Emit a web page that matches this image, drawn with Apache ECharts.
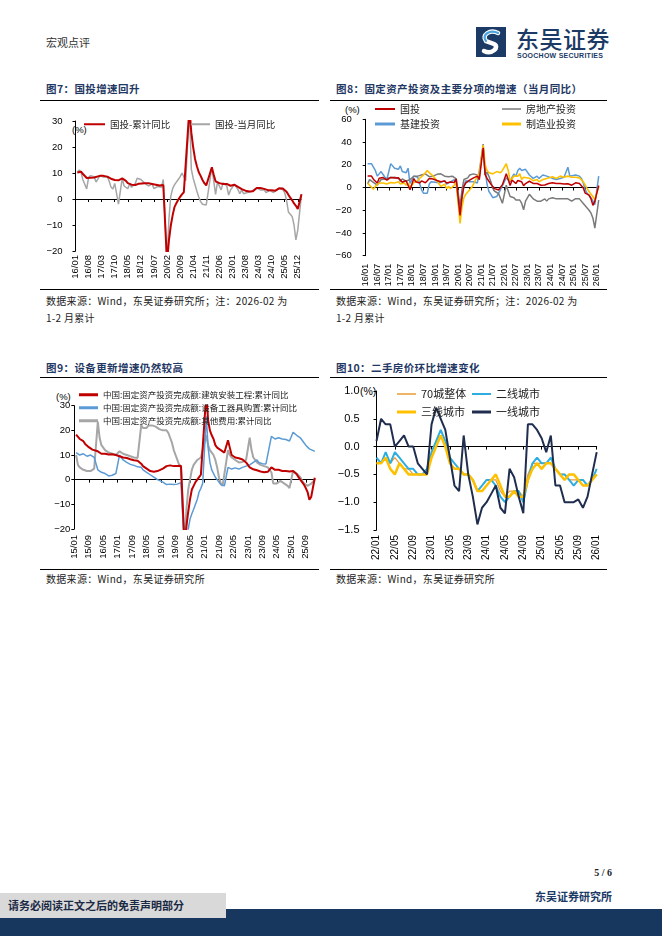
<!DOCTYPE html>
<html><head><meta charset="utf-8">
<script src="https://cdn.jsdelivr.net/npm/echarts@6.0.0/dist/echarts.min.js"></script>
<style>
body{margin:0;background:#fff;}
#page{position:relative;width:662px;height:936px;overflow:hidden;font-family:"Noto Sans CJK SC","Noto Sans",sans-serif;background:#fff;}
.t{position:absolute;white-space:nowrap;line-height:1;}
.title{font-size:10.5px;font-weight:bold;color:#1f3864;letter-spacing:0.4px;}
.src{font-size:10px;color:#222;letter-spacing:0.3px;}
.pct{font-family:"Liberation Sans",Arial,sans-serif;font-size:9.5px;color:#000;}
.hr{position:absolute;height:0;border-top:1.3px solid #000;}
#c{position:absolute;left:0;top:0;width:662px;height:936px;}
</style></head>
<body><div id="page">
<div class="t" style="left:46px;top:37px;font-size:11px;color:#333;">宏观点评</div>
<svg style="position:absolute;left:476px;top:27px" width="30" height="30" viewBox="0 0 30 30">
  <rect x="0" y="0" width="30" height="30" fill="#1b3a66"/>
  <path d="M22 6 C14 2,5 8,10 14 L18 17 C24 20,16 28,8 24" fill="none" stroke="#ffffff" stroke-width="4.5" stroke-linecap="round"/>
  <path d="M22 6 C14 2,5 8,10 14" fill="none" stroke="#4aa3df" stroke-width="2.2" stroke-linecap="round"/>
</svg>
<div class="t" style="left:516px;top:27px;font-size:23px;color:#1b3a66;font-weight:500;letter-spacing:0.5px;">东吴证券</div>
<div class="t" style="left:517px;top:51.5px;font-size:7px;color:#1b3a66;font-weight:bold;font-family:'Liberation Sans',Arial,sans-serif;letter-spacing:0.25px;">SOOCHOW SECURITIES</div>

<div class="t title" style="left:46px;top:83.5px;">图7：国投增速回升</div>
<div class="t title" style="left:336px;top:83.5px;">图8：固定资产投资及主要分项的增速（当月同比）</div>
<div class="hr" style="left:40px;width:279px;top:99.5px;"></div>
<div class="hr" style="left:330px;width:277px;top:99.5px;"></div>

<div class="t pct" style="left:72px;top:124.5px;">(%)</div>
<div class="t pct" style="left:345px;top:104.5px;">(%)</div>

<div class="hr" style="left:40px;width:279px;top:289px;"></div>
<div class="hr" style="left:330px;width:277px;top:289px;"></div>
<div class="t src" style="left:46px;top:295.5px;">数据来源：Wind，东吴证券研究所；注：2026-02 为</div>
<div class="t src" style="left:46px;top:312.5px;">1-2 月累计</div>
<div class="t src" style="left:336px;top:295.5px;">数据来源：Wind，东吴证券研究所；注：2026-02 为</div>
<div class="t src" style="left:336px;top:312.5px;">1-2 月累计</div>

<div class="t title" style="left:46px;top:362.5px;">图9：设备更新增速仍然较高</div>
<div class="t title" style="left:336px;top:362.5px;">图10：二手房价环比增速变化</div>
<div class="hr" style="left:40px;width:279px;top:376.5px;"></div>
<div class="hr" style="left:330px;width:277px;top:376.5px;"></div>

<div class="t pct" style="left:56px;top:392px;">(%)</div>
<div class="t pct" style="left:360px;top:386px;font-size:10.5px;">(%)</div>

<div class="hr" style="left:40px;width:279px;top:568.5px;"></div>
<div class="hr" style="left:330px;width:277px;top:568.5px;"></div>
<div class="t src" style="left:46px;top:574px;">数据来源：Wind，东吴证券研究所</div>
<div class="t src" style="left:336px;top:574px;">数据来源：Wind，东吴证券研究所</div>

<div class="t" style="right:50px;top:868px;font-size:10px;font-weight:bold;color:#222;font-family:'Liberation Serif',serif;">5 / 6</div>
<div class="t" style="right:50px;top:891px;font-size:11px;font-weight:bold;color:#1b3a66;">东吴证券研究所</div>
<div style="position:absolute;left:0;top:909px;width:662px;height:27px;background:#17375e;"></div>
<div style="position:absolute;left:0;top:893px;width:226px;height:25px;background:#d9d9d9;"></div>
<div class="t" style="left:8px;top:899.5px;font-size:11px;font-weight:bold;color:#1b2a44;">请务必阅读正文之后的免责声明部分</div>

<div id="c"></div>
</div>
<script>
// ---------- categories ----------
function months(y0, m0, y1, m1) {
  const a = []; let y = y0, m = m0;
  while (y < y1 || (y === y1 && m <= m1)) {
    a.push(String(y % 100).padStart(2, '0') + '/' + String(m).padStart(2, '0'));
    m++; if (m > 12) { m = 1; y++; }
  }
  return a;
}
const cat7 = months(2016, 1, 2026, 2);   // 图7 & 图8
const cat9 = months(2015, 1, 2026, 2);   // 图9
const cat10 = months(2022, 1, 2026, 1);  // 图10

// ---------- 图7 ----------
const faiCum = [
  null,10.2,10.7,10.5,9.6,9.0,8.1,8.1,8.2,8.3,8.3,8.1,
  null,8.9,9.2,8.9,8.6,8.6,8.3,7.8,7.5,7.3,7.2,7.2,
  null,7.9,7.5,7.0,6.1,6.0,5.5,5.3,5.4,5.7,5.9,5.9,
  null,6.1,6.3,6.1,5.6,5.8,5.7,5.5,5.4,5.2,5.2,5.4,
  null,-24.5,-16.1,-10.3,-6.3,-3.1,-1.6,-0.3,0.8,1.8,2.6,2.9,
  null,35.0,25.6,19.9,15.4,12.6,10.3,8.9,7.3,6.1,5.2,4.9,
  null,12.2,9.3,6.8,6.2,6.1,5.7,5.8,5.9,5.8,5.3,5.1,
  null,5.5,5.1,4.7,4.0,3.8,3.4,3.2,3.1,2.9,2.9,3.0,
  null,4.2,4.5,4.2,4.0,3.9,3.6,3.4,3.4,3.4,3.3,3.2,
  null,4.1,4.2,4.0,3.7,2.8,1.6,0.5,-0.5,-1.7,-2.6,-3.8,
  null,1.8
];
const faiMon = [
  null,10.2,11.2,10.1,7.3,7.3,3.9,8.2,9.0,8.8,8.6,6.5,
  null,8.9,9.5,8.4,8.3,8.6,6.9,4.6,3.8,6.0,6.6,-2.0,
  null,7.9,5.0,5.5,4.0,5.8,4.5,4.2,6.0,8.0,8.2,7.5,
  null,6.1,6.5,5.0,4.5,5.8,4.0,4.5,4.8,5.0,4.5,7.5,
  null,-24.5,-8.0,1.0,4.0,5.5,6.5,7.5,8.5,10.0,10.0,7.0,
  null,35.0,11.5,8.0,5.5,3.0,0.8,-1.0,-2.0,-2.2,-2.3,2.5,
  null,12.2,7.0,1.8,6.5,6.0,3.5,6.2,6.3,5.0,1.5,3.5,
  null,5.5,4.7,3.6,2.0,3.5,2.0,2.0,2.5,2.2,2.9,3.5,
  null,4.2,4.8,3.5,3.5,3.5,2.5,3.0,3.3,3.3,2.5,2.0,
  null,4.1,4.3,3.5,2.5,-0.5,-5.0,-5.5,-6.7,-10.0,-15.7,-12.0,
  null,1.8
];

// ---------- 图8 ----------
const realEstate = [
  null,3.0,7.0,6.5,4.5,3.5,2.0,4.5,7.0,8.0,7.5,6.0,
  null,8.9,9.5,9.0,8.0,8.0,5.5,7.5,6.0,5.5,5.0,7.0,
  null,9.9,10.5,10.0,10.5,11.0,9.5,12.0,11.5,9.5,10.5,10.0,
  null,11.6,12.6,12.0,10.5,10.0,9.0,9.5,10.5,10.0,9.0,7.5,
  null,-16.3,-2.0,7.0,8.0,8.5,11.0,11.5,12.0,12.7,10.9,9.0,
  null,38.3,11.0,13.5,9.8,5.0,-0.7,-3.3,-3.5,-5.4,-4.3,-13.9,
  null,2.0,-3.0,-8.0,-7.0,-9.0,-11.0,-12.0,-11.0,-14.0,-19.6,-12.0,
  null,-6.0,-8.0,-10.0,-11.0,-12.0,-11.0,-12.0,-11.0,-10.0,-12.0,-10.0,
  null,-9.0,-10.0,-10.0,-11.0,-10.0,-10.0,-10.0,-11.0,-10.0,-11.0,-12.0,
  null,-9.8,-9.0,-10.0,-11.0,-14.0,-16.0,-18.0,-20.0,-22.5,-27.0,-35.7,
  null,-11.0
];
const infra = [
  null,21,22,21,18,15,10,12,14,13,9,7,
  null,21,20,17,18,16,19,14,15,13,17,3.5,
  null,10,11,9,8,-2,-5,-4,-5,3,5,4,
  null,4.3,5,4.5,3,6,3,3,5,4,7,3,
  null,-26,-10,2,6,5,5,5,5,5,4,5,
  null,36.6,16,3,-3.5,-6,-9,-10,-8,-5,-2,-1.5,
  null,8.6,9,5,9,12,10,15,17,15,14,16,
  null,11,10,8,9,10,8,9,11,12,10,9,
  null,8,9,7,6,8,7,9,8,17.8,10,9,
  null,11,12.6,10,8,4,-2,-5,-6.4,-9,-12,-15,
  null,10
];
const manuf = [
  null,4,2,1,-1.5,1,2,4,5,4,3,3,
  null,4.3,6,4,4,5,3,3,4,2,4,0,
  null,4.3,5,6,8,9,11,12,15,13,12,10,
  null,5.9,5,1,2,3,-1,1,-1,-2,2,5,
  null,-31.5,-17,-9,-6,-4,-2,0,3,3.8,10,12,
  null,37.3,20,15,13,12,12,13,14,13,13,15,
  null,20.9,15,6,8,10,9,10,12,7,9,8,
  null,8.1,7,6,5,7,5,6,7,6,8,7,
  null,9.4,10,8,9,10,9,9,9,10,10,9,
  null,9,9.5,8.5,7,5,2,-1,-3.5,-6,-8,-11,
  null,1
];

// ---------- 图9 ----------
const construct = [
  null,18.3,17.5,16.5,16,15.6,14.5,13.8,13.2,12.8,12.2,12,
  null,11.5,11,10.5,10.5,10.5,10.5,10.2,10.2,10.3,10.2,10,
  null,9.5,9.5,9,9,8.8,8.5,8.3,8,7.9,7.8,7.7,
  null,6.5,5.5,5,4.5,4,3.5,3.3,3.2,3.3,3.5,3.6,
  null,4.5,5,5.5,5.5,5.8,5.7,5.5,5.4,5.5,5.5,5.6,
  null,-27,-19,-13,-8,-4,-2.5,-1,0,1,2,2.8,
  null,35,24,20,18,16.5,14,13,12.5,12,11.5,11,
  null,16,13,10,9.5,9,8.5,8.7,8.5,8.2,7.5,7,
  null,5,4.5,4.2,4,3.8,3.5,3.3,3.2,3,3,3.2,
  null,5,4.5,4,4,4,3.8,3.5,3.5,3.5,3.4,3.3,
  null,3.5,3,2.2,1,0,-1,-2,-3.4,-5,-8.1,-7,
  null,0.8
];
const equip = [
  null,11,10.5,10,10,10.5,10,9.5,9.5,10,10,9,
  null,4,3.5,3,3,2.5,2,1.5,1.5,1.8,2,2.5,
  null,10,9,8,7.5,7,6.5,6.2,6,5.8,5.5,5.2,
  null,5,4,3.5,3,2.5,2,1.5,1,0.5,0,-0.5,
  null,-1,-1.5,-2,-2,-1.8,-1.5,-2,-2,-1.8,-1.5,-1.2,
  null,-28,-25,-20,-16,-13.8,-12,-10,-8,-5,-3.5,-1.5,
  null,25.7,13,7,4,2.5,1,0,-1,-2,-2.5,-2.5,
  null,5,4.5,4.3,4.5,4.8,4.5,4.3,4.8,5,5.2,5.5,
  null,6,6.5,7,7.5,8,7,6.8,6.5,6.2,6.4,6.6,
  null,17.6,17,16.5,17,17,17,16.5,16.4,16.3,16,15.7,
  null,19.2,18.5,18,17.5,17,16,15,14,13.5,12.5,12,
  null,11.5
];
const otherCost = [
  null,10,6,5,4.5,4,3.5,3.5,3.2,3.5,4,4.5,
  null,23.5,17,14,13,12,11.5,11,10.8,10.5,10.2,10,
  null,11.5,11,10.5,10,10,9.5,9.5,9,9,9,8.8,
  null,22,21,20.5,21,22,22.5,22,21.5,21.5,21,20.5,
  null,20,20.5,20,19,17,15,12,10,8,6,5,
  null,-30,-12,-4,0,4,6,7,8,8.5,9,9,
  null,18,14,12,11,10,8,5,1,-1.5,-2.5,-2,
  null,12,10,9,8.5,8,7.5,7,7,7.2,7.5,8,
  null,17,12,9,8,7,6.5,6,5.5,5.5,5.2,5,
  null,3,-1.5,-2,-1.5,-1,-0.5,-1,-1.5,-2,-2.5,-3.4,
  null,3.5,3,2.5,2,1,-0.5,-1.5,-2,-2.5,-2,-1.6,
  null,0
];

// ---------- 图10 ----------
const city70 = [-0.3,-0.3,-0.2,-0.3,-0.2,-0.3,-0.4,-0.4,-0.5,-0.5,-0.5,-0.4,-0.1,0.1,0.2,0.0,-0.3,-0.4,-0.4,-0.5,-0.5,-0.6,-0.8,-0.7,-0.6,-0.6,-0.6,-0.8,-0.9,-0.8,-0.8,-0.8,-0.9,-0.5,-0.3,-0.3,-0.3,-0.3,-0.3,-0.4,-0.5,-0.5,-0.6,-0.6,-0.6,-0.6,-0.7,-0.6,-0.5];
const tier2 = [-0.2,-0.3,-0.1,-0.3,-0.1,-0.2,-0.3,-0.4,-0.4,-0.5,-0.5,-0.4,-0.1,0.1,0.3,0.1,-0.2,-0.3,-0.4,-0.5,-0.5,-0.6,-0.8,-0.7,-0.6,-0.6,-0.7,-0.9,-1.0,-0.9,-0.8,-0.8,-1.0,-0.6,-0.3,-0.2,-0.3,-0.3,-0.2,-0.4,-0.5,-0.5,-0.6,-0.7,-0.6,-0.6,-0.7,-0.6,-0.4];
const tier3 = [-0.3,-0.3,-0.2,-0.4,-0.5,-0.3,-0.4,-0.5,-0.5,-0.5,-0.5,-0.5,-0.2,0.0,0.2,0.0,-0.3,-0.4,-0.4,-0.5,-0.5,-0.6,-0.8,-0.8,-0.7,-0.6,-0.5,-0.7,-0.9,-0.9,-0.8,-0.9,-0.9,-0.6,-0.4,-0.3,-0.4,-0.3,-0.3,-0.4,-0.5,-0.6,-0.5,-0.5,-0.6,-0.7,-0.7,-0.6,-0.5];
const tier1 = [0.1,0.5,0.4,0.4,0.0,0.1,0.2,0.0,0.0,-0.3,-0.4,-0.5,0.4,0.7,0.5,0.3,-0.2,-0.7,-0.8,0.2,-0.5,-0.9,-1.4,-1.1,-1.0,-0.85,-0.7,-1.1,-1.2,-0.4,-0.55,-0.9,-1.2,0.4,0.4,0.3,0.15,-0.1,0.2,-0.7,-0.7,-1.0,-1.0,-1.0,-0.95,-1.1,-0.9,-0.5,-0.1];

// ---------- helpers ----------
const NUM = "'Liberation Sans', Arial, sans-serif";
const CJK = "'Noto Sans CJK SC', sans-serif";
const minus = v => String(v).replace('-', '\u2212');
function yAx(grid, min, max, interval, fs, margin, fmt) {
  return { type: 'value', gridIndex: grid, min, max, interval,
    splitLine: { show: false },
    axisLine: { show: true, lineStyle: { color: '#000', width: 1 } },
    axisTick: { show: true, length: 3, lineStyle: { color: '#000' } },
    axisLabel: { fontSize: fs, margin, color: '#000', fontFamily: NUM, formatter: fmt || minus } };
}
function xLab(grid, data, interval, fs, margin) {
  return { type: 'category', gridIndex: grid, data, boundaryGap: false, position: 'bottom',
    axisLine: { show: false, onZero: false }, axisTick: { show: false }, splitLine: { show: false },
    axisLabel: { interval, rotate: 90, fontSize: fs, margin, color: '#000', fontFamily: NUM } };
}
function xZero(grid, data, interval) {
  return { type: 'category', gridIndex: grid, data, boundaryGap: false, position: 'bottom',
    axisLine: { show: true, onZero: true, lineStyle: { color: '#000', width: 1 } },
    axisTick: { show: true, interval, length: 3, lineStyle: { color: '#000' } },
    axisLabel: { show: false }, splitLine: { show: false } };
}
function line(name, data, xi, yi, color, width) {
  return { type: 'line', name, data, xAxisIndex: xi, yAxisIndex: yi, symbol: 'none',
    connectNulls: true, clip: true, lineStyle: { color, width }, itemStyle: { color } };
}
function leg(name, left, top, iw, ih, fs) {
  return { data: [name], left, top, itemWidth: iw, itemHeight: ih, icon: 'rect', padding: 0,
    selectedMode: false, itemStyle: { borderWidth: 0 },
    textStyle: { fontSize: fs, color: '#222', fontFamily: CJK } };
}

const RED = '#c00000', GRAY = '#a6a6a6', BLUE = '#5b9bd5', YEL = '#ffc000', DGRAY = '#7a7a7a';

const option = {
  animation: false,
  grid: [
    { left: 75.5, top: 121, width: 226, height: 130 },
    { left: 365.7, top: 119.3, width: 233, height: 136.4 },
    { left: 74.3, top: 405.7, width: 240.5, height: 123.3 },
    { left: 376.5, top: 391, width: 220.2, height: 139 }
  ],
  xAxis: [
    xLab(0, cat7, 6, 9.5, 4), xZero(0, cat7, 6),
    xLab(1, cat7, 5, 9, 8), xZero(1, cat7, 5),
    xLab(2, cat9, 7, 9.5, 6), xZero(2, cat9, 7),
    xLab(3, cat10, 3, 10, 5), xZero(3, cat10, 3)
  ],
  yAxis: [
    yAx(0, -20, 30, 10, 9.5, 13),
    yAx(1, -60, 60, 20, 9.5, 14),
    yAx(2, -20, 30, 10, 9.5, 4),
    yAx(3, -1.5, 1.0, 0.5, 11, 17, v => minus(v.toFixed(1)))
  ],
  legend: [
    leg('国投-累计同比', 84, 119.5, 21, 2, 9.5),
    leg('国投-当月同比', 191, 119.5, 19, 2, 9.5),
    leg('国投', 375, 104, 20, 2, 10),
    leg('房地产投资', 502, 104, 19, 1.5, 10),
    leg('基建投资', 375, 119, 20, 3, 10),
    leg('制造业投资', 502, 119, 19, 3, 10),
    leg('中国:固定资产投资完成额:建筑安装工程:累计同比', 79, 390.5, 19, 3, 8.5),
    leg('中国:固定资产投资完成额:设备工器具购置:累计同比', 79, 403.5, 19, 3, 8.5),
    leg('中国:固定资产投资完成额:其他费用:累计同比', 79, 416.5, 19, 3, 8.5),
    leg('70城整体', 397, 388.5, 19, 1.5, 11),
    leg('二线城市', 472, 388.5, 19, 2, 11),
    leg('三线城市', 397, 406.5, 19, 3, 11),
    leg('一线城市', 472, 406.5, 19, 3, 11)
  ],
  series: [
    line('国投-当月同比', faiMon, 0, 0, GRAY, 1.5),
    line('国投-累计同比', faiCum, 0, 0, RED, 2),

    line('基建投资', infra, 2, 1, BLUE, 1.5),
    line('房地产投资', realEstate, 2, 1, DGRAY, 1.5),
    line('制造业投资', manuf, 2, 1, YEL, 1.6),
    line('国投', faiMon, 2, 1, RED, 1.5),

    line('中国:固定资产投资完成额:其他费用:累计同比', otherCost, 4, 2, GRAY, 2),
    line('中国:固定资产投资完成额:设备工器具购置:累计同比', equip, 4, 2, BLUE, 1.5),
    line('中国:固定资产投资完成额:建筑安装工程:累计同比', construct, 4, 2, RED, 2),

    line('70城整体', city70, 6, 3, '#eb9b34', 1.2),
    line('二线城市', tier2, 6, 3, '#2eaee0', 2),
    line('三线城市', tier3, 6, 3, YEL, 2.5),
    line('一线城市', tier1, 6, 3, '#1f2d4f', 2)
  ]
};
const chart = echarts.init(document.getElementById('c'), null, { renderer: 'canvas' });
chart.setOption(option);
</script>
</body></html>
